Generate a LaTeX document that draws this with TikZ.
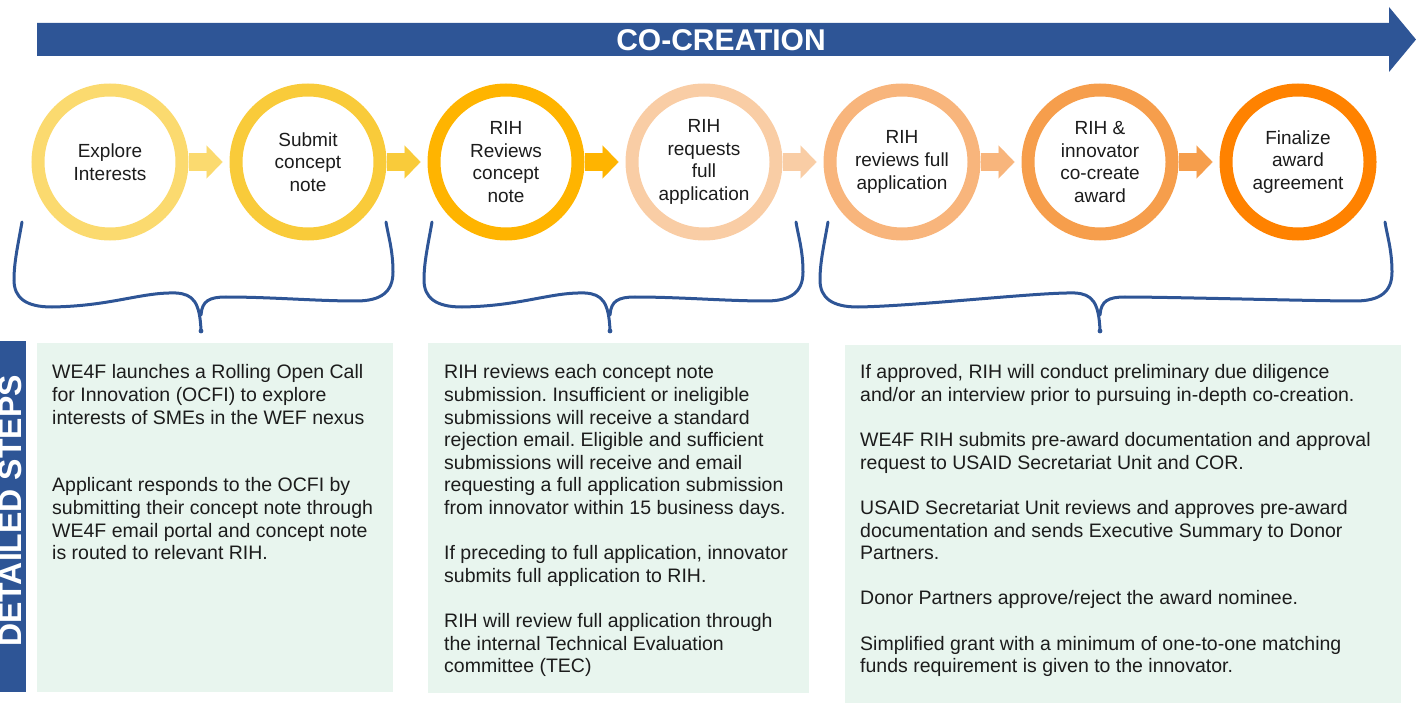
\documentclass[tikz,border=0pt]{standalone}
\usepackage{fontspec}
\setmainfont{Liberation Sans}
\usepackage{tikz}
\usetikzlibrary{arrows.meta}
\frenchspacing

\definecolor{cblue}{HTML}{2E5596}
\definecolor{mint}{HTML}{E8F5EE}
\definecolor{ink}{HTML}{1C1C1C}
\definecolor{cA}{HTML}{FBDA6F}
\definecolor{cB}{HTML}{F9CB3A}
\definecolor{cC}{HTML}{FFB400}
\definecolor{cD}{HTML}{F9CDA5}
\definecolor{cE}{HTML}{F8B57C}
\definecolor{cF}{HTML}{F69E4C}
\definecolor{cG}{HTML}{FF8200}

% left end, tip, right end
\newcommand{\curlybrace}[3]{%
  \draw[braceline] (#1,222) .. controls ({#1-4},245) and ({#1-8},262) .. ({#1-8},280)
    .. controls ({#1-8},298) and ({#1+4},307) .. ({#1+30},307)
    .. controls ({#1+90},306) and ({#2-60},292) .. ({#2-25},293)
    .. controls ({#2-8},294) and ({#2-1},302) .. (#2,331);
  \draw[braceline] (#2,315) .. controls ({#2+1},301) and ({#2+8},297) .. ({#2+25},297)
    .. controls ({#2+70},297) and ({#3-70},301) .. ({#3-30},301)
    .. controls ({#3-5},301) and ({#3+7},292) .. ({#3+7},272)
    .. controls ({#3+7},250) and ({#3+2},235) .. (#3,222);
  \fill[cblue] (#2,331) circle (2.4);
}

\begin{document}
\begin{tikzpicture}[x=1pt, y=-1pt,
    stage/.style={circle, draw=#1, line width=13pt, minimum size=144pt, inner sep=0pt,
      align=center, text=ink, font=\fontsize{19}{22.7}\selectfont},
    flowarrow/.style={draw=#1, line width=18pt,
      -{Triangle[length=16pt, width=33pt, line width=0.1pt]}, shorten >=7pt},
    braceline/.style={draw=cblue, line width=3pt, line cap=round},
    detailtext/.style={anchor=north west, inner sep=0pt, align=left, text=ink,
      font=\fontsize{19.5}{22.6}\selectfont}]
    \useasboundingbox (0,0) rectangle (1416,703);

    % top banner
    \fill[cblue] (37,23) -- (1389,23) -- (1389,7) -- (1416,39.5) -- (1389,72)
      -- (1389,56) -- (37,56) -- cycle;
    \node[text=white, font=\bfseries\fontsize{30}{33}\selectfont] (cocreation) at (721,40) {CO-CREATION};

    % stages
    \node[stage=cA] (explore)  at (110,162)  {Explore\\Interests};
    \node[stage=cB] (submit)   at (308,162)  {Submit\\concept\\note};
    \node[stage=cC] (reviewcn) at (506,162)  {RIH\\Reviews\\concept\\note};
    \node[stage=cD] (request)  at (704,162)  {RIH\\requests\\full\\application};
    \node[stage=cE] (reviewfa) at (902,162)  {RIH\\reviews full\\application};
    \node[stage=cF] (cocreate) at (1100,162) {RIH \&\\innovator\\co-create\\award};
    \node[stage=cG] (finalize) at (1298,162) {Finalize\\award\\agreement};

    \draw[flowarrow=cA] (explore) -- (submit);
    \draw[flowarrow=cB] (submit) -- (reviewcn);
    \draw[flowarrow=cC] (reviewcn) -- (request);
    \draw[flowarrow=cD] (request) -- (reviewfa);
    \draw[flowarrow=cE] (reviewfa) -- (cocreate);
    \draw[flowarrow=cF] (cocreate) -- (finalize);

    % braces
    \curlybrace{22}{201}{386}
    \curlybrace{432}{610}{796}
    \curlybrace{828}{1100}{1385}

    % detailed steps
    \fill[cblue] (0,341) rectangle (26,692);
    \node[rotate=90, anchor=base, text=white, font=\bfseries\fontsize{32}{35}\selectfont]
      (steps) at (21,511) {DETAILED STEPS};

    \fill[mint] (37,343) rectangle (393,692);
    \fill[mint] (428,343) rectangle (809,693);
    \fill[mint] (845,345) rectangle (1401,703);

    \node[detailtext] (detailA) at (52,364.5) {WE4F launches a Rolling Open Call\\
      for Innovation (OCFI) to explore\\
      interests of SMEs in the WEF nexus\\[45.2pt]
      Applicant responds to the OCFI by\\
      submitting their concept note through\\
      WE4F email portal and concept note\\
      is routed to relevant RIH.};
    \node[detailtext] (detailB) at (444,364.5) {RIH reviews each concept note\\
      submission. Insufficient or ineligible\\
      submissions will receive a standard\\
      rejection email. Eligible and sufficient\\
      submissions will receive and email\\
      requesting a full application submission\\
      from innovator within 15 business days.\\[22.6pt]
      If preceding to full application, innovator\\
      submits full application to RIH.\\[22.6pt]
      RIH will review full application through\\
      the internal Technical Evaluation\\
      committee (TEC)};
    \node[detailtext] (detailC) at (860,364.5) {If approved, RIH will conduct preliminary due diligence\\
      and/or an interview prior to pursuing in-depth co-creation.\\[22.6pt]
      WE4F RIH submits pre-award documentation and approval\\
      request to USAID Secretariat Unit and COR.\\[22.6pt]
      USAID Secretariat Unit reviews and approves pre-award\\
      documentation and sends Executive Summary to Donor\\
      Partners.\\[22.6pt]
      Donor Partners approve/reject the award nominee.\\[22.6pt]
      Simplified grant with a minimum of one-to-one matching\\
      funds requirement is given to the innovator.};
\end{tikzpicture}
\end{document}
